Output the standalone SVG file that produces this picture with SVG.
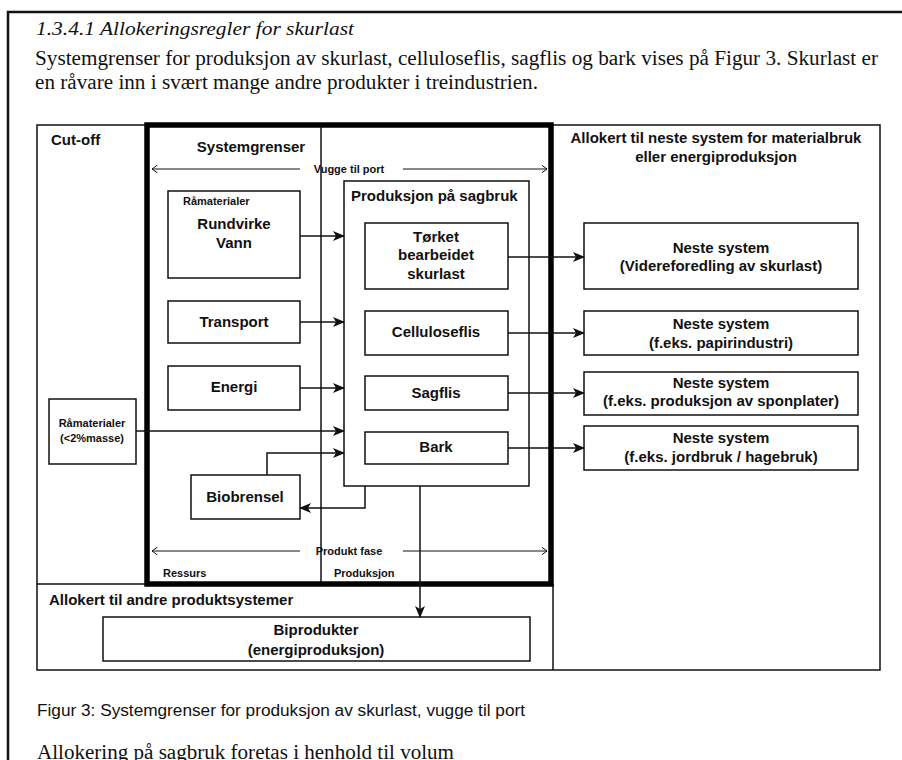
<svg xmlns="http://www.w3.org/2000/svg" width="902" height="760" viewBox="0 0 902 760">
<defs>
<marker id="ah" markerWidth="12" markerHeight="10" refX="11" refY="5" orient="auto" markerUnits="userSpaceOnUse"><path d="M0,0 L12,5 L0,10 L3,5 Z" fill="#111"/></marker>
<marker id="oh" markerWidth="6" markerHeight="8" refX="5.5" refY="4" orient="auto" markerUnits="userSpaceOnUse"><path d="M0,0 L5.5,4 L0,8" fill="none" stroke="#111" stroke-width="1"/></marker>
<style>
.b{fill:#fff;stroke:#111;stroke-width:1.5}
.l{fill:none;stroke:#111;stroke-width:1.5}
.t{font-family:"Liberation Sans",Arial,sans-serif;font-weight:bold;font-size:15px;fill:#111}
.s{font-family:"Liberation Sans",Arial,sans-serif;font-weight:bold;font-size:11px;fill:#111}
.m{text-anchor:middle}
.c{stroke:#111;stroke-width:1.5;fill:none;marker-end:url(#ah)}
.o{stroke:#111;stroke-width:1;fill:none;marker-end:url(#oh)}
.serif{font-family:"Liberation Serif","Times New Roman",serif;fill:#111}
</style>
</defs>
<rect width="902" height="760" fill="#fff"/>
<path d="M8,760 V12 H902" fill="none" stroke="#111" stroke-width="2.5"/>
<text class="serif" x="36" y="35" font-size="19" font-style="italic" textLength="318" lengthAdjust="spacingAndGlyphs">1.3.4.1  Allokeringsregler for skurlast</text>
<text class="serif" x="35" y="65" font-size="20" textLength="843" lengthAdjust="spacingAndGlyphs">Systemgrenser for produksjon av skurlast, celluloseflis, sagflis og bark vises på Figur 3. Skurlast er</text>
<text class="serif" x="35" y="89" font-size="20" textLength="503" lengthAdjust="spacingAndGlyphs">en råvare inn i svært mange andre produkter i treindustrien.</text>

<g id="frame">
<rect x="37" y="125" width="843" height="545" class="l"/>
<line x1="37" y1="584" x2="553" y2="584" class="l"/>
<line x1="553" y1="584" x2="553" y2="670" class="l"/>
<line x1="321" y1="125" x2="321" y2="584" class="l"/>
<rect x="147" y="125" width="404" height="459" fill="none" stroke="#000" stroke-width="5.5"/>
<text class="t" x="51" y="145">Cut-off</text>
<text class="t m" x="251" y="152">Systemgrenser</text>
<text class="t m" x="716" y="143">Allokert til neste system for materialbruk</text>
<text class="t m" x="716" y="162">eller energiproduksjon</text>
<text class="t" x="49" y="605">Allokert til andre produktsystemer</text>
<text class="s m" x="349" y="173">Vugge til port</text>
<text class="s m" x="349" y="555">Produkt fase</text>
<text class="s" x="163" y="577">Ressurs</text>
<text class="s" x="334" y="577">Produksjon</text>
</g>

<g id="n_ramaterialer">
<rect x="168" y="191" width="132" height="87" class="b"/>
<text class="s" x="183" y="205">Råmaterialer</text>
<text class="t m" x="234" y="229">Rundvirke</text>
<text class="t m" x="234" y="248">Vann</text>
</g>
<g id="n_transport"><rect x="168" y="301" width="132" height="42" class="b"/><text class="t m" x="234" y="327">Transport</text></g>
<g id="n_energi"><rect x="168" y="366" width="132" height="44" class="b"/><text class="t m" x="234" y="392">Energi</text></g>
<g id="n_ram2"><rect x="49" y="399" width="87" height="65" class="b"/><text class="s m" x="92" y="427">Råmaterialer</text><text class="s m" x="92" y="442">(&lt;2%masse)</text></g>
<g id="n_biobrensel"><rect x="191" y="475" width="109" height="44" class="b"/><text class="t m" x="245" y="502">Biobrensel</text></g>

<g id="n_produksjon"><rect x="344" y="181" width="185" height="305" class="b"/><text class="t" x="351" y="201">Produksjon på sagbruk</text></g>
<g id="n_torket"><rect x="365" y="223" width="143" height="66" class="b"/><text class="t m" x="436" y="242">Tørket</text><text class="t m" x="436" y="260">bearbeidet</text><text class="t m" x="436" y="279">skurlast</text></g>
<g id="n_cellulose"><rect x="365" y="311" width="143" height="44" class="b"/><text class="t m" x="436" y="337">Celluloseflis</text></g>
<g id="n_sagflis"><rect x="365" y="376" width="143" height="34" class="b"/><text class="t m" x="436" y="398">Sagflis</text></g>
<g id="n_bark"><rect x="365" y="432" width="143" height="32" class="b"/><text class="t m" x="436" y="452">Bark</text></g>

<g id="n_neste1"><rect x="584" y="223" width="274" height="66" class="b"/><text class="t m" x="721" y="253">Neste system</text><text class="t m" x="721" y="271">(Videreforedling av skurlast)</text></g>
<g id="n_neste2"><rect x="584" y="311" width="274" height="44" class="b"/><text class="t m" x="721" y="329">Neste system</text><text class="t m" x="721" y="348">(f.eks. papirindustri)</text></g>
<g id="n_neste3"><rect x="584" y="372" width="274" height="43" class="b"/><text class="t m" x="721" y="388">Neste system</text><text class="t m" x="721" y="406">(f.eks. produksjon av sponplater)</text></g>
<g id="n_neste4"><rect x="584" y="426" width="274" height="44" class="b"/><text class="t m" x="721" y="443">Neste system</text><text class="t m" x="721" y="462">(f.eks.  jordbruk / hagebruk)</text></g>

<g id="n_biprodukter"><rect x="103" y="617" width="427" height="44" class="b"/><text class="t m" x="316" y="635">Biprodukter</text><text class="t m" x="316" y="655">(energiproduksjon)</text></g>

<g id="connectors">
<line x1="300" y1="169" x2="152" y2="169" class="o"/>
<line x1="403" y1="169" x2="547" y2="169" class="o"/>
<line x1="300" y1="551" x2="152" y2="551" class="o"/>
<line x1="403" y1="551" x2="547" y2="551" class="o"/>
<line x1="300" y1="236" x2="344" y2="236" class="c"/>
<line x1="300" y1="322" x2="344" y2="322" class="c"/>
<line x1="300" y1="388" x2="344" y2="388" class="c"/>
<line x1="136" y1="431" x2="344" y2="431" class="c"/>
<polyline points="267,475 267,453 344,453" class="c"/>
<polyline points="365,486 365,508 300,508" class="c"/>
<line x1="508" y1="257" x2="584" y2="257" class="c"/>
<line x1="508" y1="333" x2="584" y2="333" class="c"/>
<line x1="508" y1="393" x2="584" y2="393" class="c"/>
<line x1="508" y1="448" x2="584" y2="448" class="c"/>
<line x1="420" y1="486" x2="420" y2="617" class="c"/>
</g>

<text x="37" y="716" font-family="Liberation Sans,Arial,sans-serif" font-size="16" fill="#111" textLength="488" lengthAdjust="spacingAndGlyphs">Figur 3: Systemgrenser for produksjon av skurlast, vugge til port</text>
<text class="serif" x="37" y="759" font-size="20" textLength="417" lengthAdjust="spacingAndGlyphs">Allokering på sagbruk foretas i henhold til volum</text>
</svg>
